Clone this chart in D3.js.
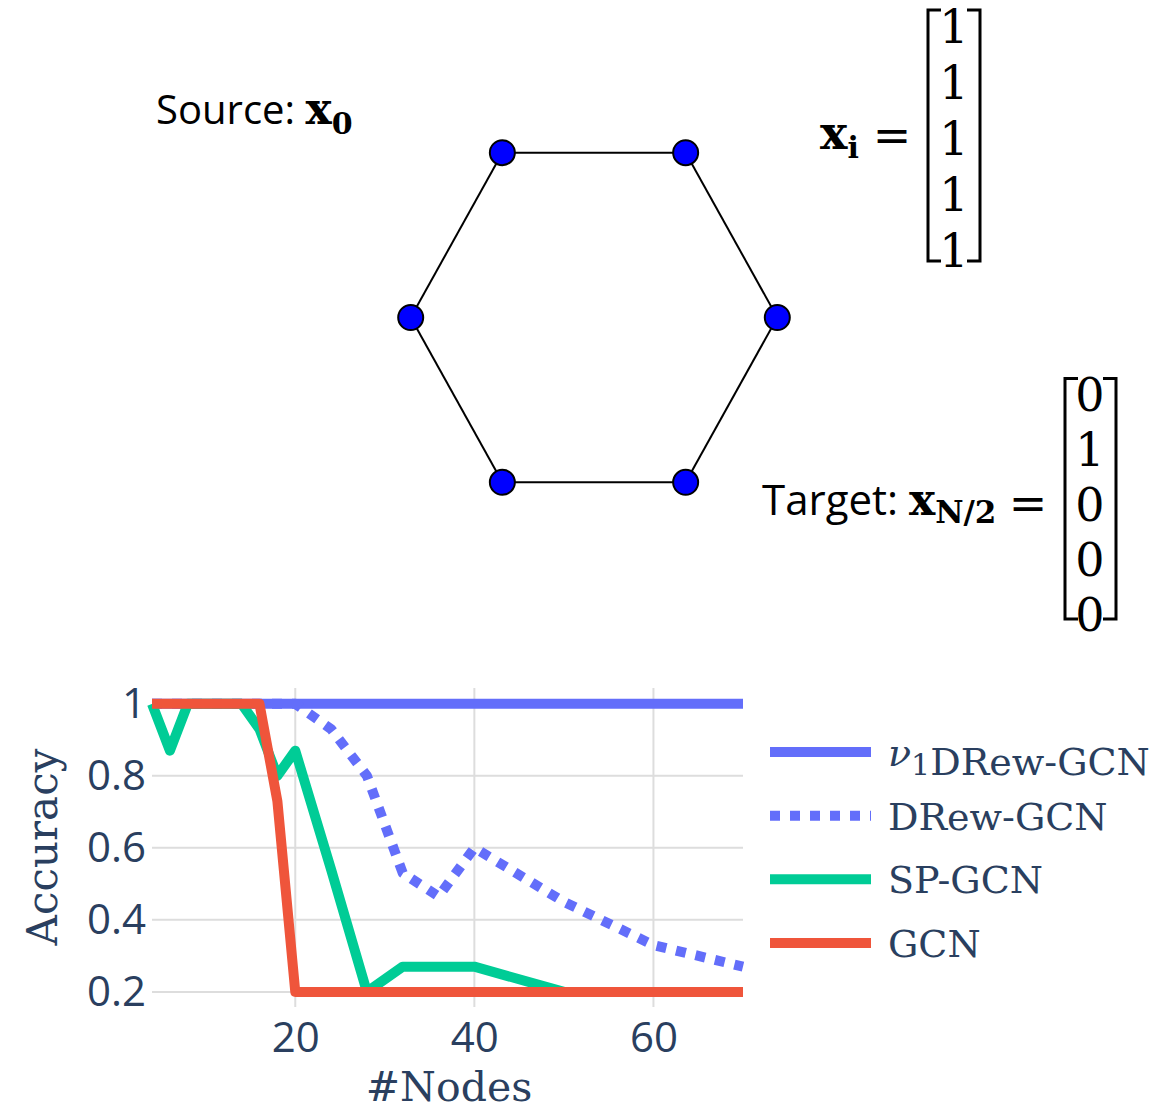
<!DOCTYPE html>
<html>
<head>
<meta charset="utf-8">
<script src="https://cdn.jsdelivr.net/npm/d3@7"></script>
<style>
  body { margin: 0; background: #fff; }
  svg { display: block; }
</style>
</head>
<body>
<div class="container-chart"></div>
<script>
/* --------------------------------------------------------- */
/* DATA                                                      */
/* --------------------------------------------------------- */
const nodeCounts = [4, 6, 8, 10, 12, 14, 16, 18, 20, 24, 28, 32, 36, 40, 50, 60, 70];
const v1DrewAcc  = [1, 1, 1, 1, 1, 1, 1, 1, 1, 1, 1, 1, 1, 1, 1, 1, 1];
const drewAcc    = [1, 1, 1, 1, 1, 1, 1, 1, 1, 0.93, 0.8, 0.53, 0.465, 0.6, 0.45, 0.33, 0.27];
const spAcc      = [1, 0.87, 1, 1, 1, 1, 0.93, 0.8, 0.87, 0.54, 0.2, 0.27, 0.27, 0.27, 0.2, 0.2, 0.2];
const gcnAcc     = [1, 1, 1, 1, 1, 1, 1, 0.73, 0.2, 0.2, 0.2, 0.2, 0.2, 0.2, 0.2, 0.2, 0.2];

const seriesNames = ["DRew-GCN", "DRew-GCN", "SP-GCN", "GCN"];
const xTicks = [20, 40, 60];
const yTicks = [0.2, 0.4, 0.6, 0.8, 1];

// ring graph in the top diagram: node angles (degrees) and edges between them
const ringAngles = [0, 60, 120, 180, 240, 300];
const ringEdges = [[0, 1], [1, 2], [2, 3], [3, 4], [4, 5], [5, 0]];

const featureVec = ["1", "1", "1", "1", "1"];
const targetVec  = ["0", "1", "0", "0", "0"];

/* --------------------------------------------------------- */
/* DRAW                                                      */
/* --------------------------------------------------------- */
const W = 1166, H = 1113;
const axisColor = "#2a3f5f";
const serif = "'DejaVu Serif', serif";
const sans = "'Open Sans', sans-serif";

const svg = d3.select(".container-chart")
    .append("svg")
    .attr("width", W)
    .attr("height", H);

// ---- top diagram ----
const diagram = svg.append("g");

// slightly taller than wide, as in the original figure
const ringX = d3.scaleLinear().domain([-1, 1]).range([410.7, 777.3]);
const ringY = d3.scaleLinear().domain([-1, 1]).range([507.8, 127.2]);
const ringPts = ringAngles.map(function (a) {
    const r = a * Math.PI / 180;
    return { x: ringX(Math.cos(r)), y: ringY(Math.sin(r)) };
});

diagram.selectAll(".edge")
    .data(ringEdges)
    .enter().append("line")
    .attr("class", "edge")
    .attr("x1", function (d) { return ringPts[d[0]].x; })
    .attr("y1", function (d) { return ringPts[d[0]].y; })
    .attr("x2", function (d) { return ringPts[d[1]].x; })
    .attr("y2", function (d) { return ringPts[d[1]].y; })
    .attr("stroke", "#000")
    .attr("stroke-width", 2);

diagram.selectAll(".ringnode")
    .data(ringPts)
    .enter().append("circle")
    .attr("class", "ringnode")
    .attr("cx", function (d) { return d.x; })
    .attr("cy", function (d) { return d.y; })
    .attr("r", 12.5)
    .attr("fill", "#0000ff")
    .attr("stroke", "#000")
    .attr("stroke-width", 2);

// "Source: x0"
const src = diagram.append("text")
    .attr("x", 156).attr("y", 124)
    .attr("font-family", sans).attr("font-size", 40).attr("fill", "#000");
src.append("tspan").text("Source: ");
src.append("tspan").attr("font-family", serif).attr("font-weight", "bold").attr("font-size", 44).text("x");
src.append("tspan").attr("font-family", serif).attr("font-weight", "bold").attr("font-size", 30)
    .attr("dy", 10).text("0");

// "xi = [1 1 1 1 1]"
const xi = diagram.append("text")
    .attr("x", 820).attr("y", 149)
    .attr("font-family", serif).attr("font-weight", "bold").attr("fill", "#000");
xi.append("tspan").attr("font-size", 46).text("x");
xi.append("tspan").attr("font-size", 30).attr("dy", 9).text("i");

diagram.append("text")
    .attr("x", 892).attr("y", 135).attr("dy", "0.35em")
    .attr("text-anchor", "middle")
    .attr("font-family", serif).attr("font-size", 46).attr("fill", "#000")
    .text("=");

// column vector with square brackets
function drawVector(g, values, cx, top, step, left, right, bottom) {
    g.selectAll(null)
        .data(values)
        .enter().append("text")
        .attr("x", cx)
        .attr("y", function (d, i) { return top + i * step; })
        .attr("dy", "0.36em")
        .attr("text-anchor", "middle")
        .attr("font-family", serif)
        .attr("font-size", 46)
        .attr("fill", "#000")
        .text(function (d) { return d; });

    const yTop = top - step / 2 + 12, yBot = bottom;
    const br = d3.path();
    br.moveTo(left + 13, yTop); br.lineTo(left, yTop); br.lineTo(left, yBot); br.lineTo(left + 13, yBot);
    br.moveTo(right - 13, yTop); br.lineTo(right, yTop); br.lineTo(right, yBot); br.lineTo(right - 13, yBot);
    g.append("path")
        .attr("d", br.toString())
        .attr("fill", "none")
        .attr("stroke", "#000")
        .attr("stroke-width", 3);
}

drawVector(diagram, featureVec, 954, 26, 56, 928, 980, 261);

// "Target: xN/2 = [0 1 0 0 0]"
const tgt = diagram.append("text")
    .attr("x", 762).attr("y", 515)
    .attr("font-family", sans).attr("font-size", 42).attr("fill", "#000");
tgt.append("tspan").text("Target: ");
tgt.append("tspan").attr("font-family", serif).attr("font-weight", "bold").attr("font-size", 44).text("x");
tgt.append("tspan").attr("font-family", serif).attr("font-weight", "bold").attr("font-size", 31)
    .attr("dy", 8).text("N/2");

diagram.append("text")
    .attr("x", 1028).attr("y", 503).attr("dy", "0.35em")
    .attr("text-anchor", "middle")
    .attr("font-family", serif).attr("font-size", 46).attr("fill", "#000")
    .text("=");

drawVector(diagram, targetVec, 1090, 394, 55, 1065, 1116, 619);

// ---- accuracy chart ----
const x = d3.scaleLinear().domain([4, 70]).range([152, 743]);
const y = d3.scaleLinear().domain([0.158, 1.044]).range([1007, 688]);

const grid = svg.append("g");
grid.selectAll(".vgrid")
    .data(xTicks)
    .enter().append("line")
    .attr("x1", function (d) { return x(d); })
    .attr("x2", function (d) { return x(d); })
    .attr("y1", y.range()[1])
    .attr("y2", y.range()[0])
    .attr("stroke", "#dddddd")
    .attr("stroke-width", 2);
grid.selectAll(".hgrid")
    .data(yTicks)
    .enter().append("line")
    .attr("x1", x.range()[0])
    .attr("x2", x.range()[1])
    .attr("y1", function (d) { return y(d); })
    .attr("y2", function (d) { return y(d); })
    .attr("stroke", "#dddddd")
    .attr("stroke-width", 2);

// axes (labels only, like plotly)
const xAxis = svg.append("g")
    .attr("transform", "translate(0," + 1015 + ")")
    .call(d3.axisBottom(x).tickValues(xTicks).tickSize(0).tickPadding(0).tickFormat(d3.format("d")));
xAxis.select(".domain").remove();
xAxis.selectAll("text")
    .attr("y", 7)
    .attr("dy", "0.71em")
    .attr("font-family", sans).attr("font-size", 42).attr("fill", axisColor);

const yAxis = svg.append("g")
    .attr("transform", "translate(" + 146 + ",0)")
    .call(d3.axisLeft(y).tickValues(yTicks).tickSize(0).tickPadding(0)
        .tickFormat(function (d) { return d === 1 ? "1" : d3.format(".1f")(d); }));
yAxis.select(".domain").remove();
yAxis.selectAll("text")
    .attr("font-family", sans).attr("font-size", 42).attr("fill", axisColor);

svg.append("text")
    .attr("x", 449).attr("y", 1101)
    .attr("text-anchor", "middle")
    .attr("font-family", serif).attr("font-size", 41).attr("fill", axisColor)
    .text("#Nodes");

svg.append("text")
    .attr("transform", "translate(57,847) rotate(-90)")
    .attr("text-anchor", "middle")
    .attr("font-family", serif).attr("font-size", 42).attr("fill", axisColor)
    .text("Accuracy");

const series = [
    { name: seriesNames[0], values: v1DrewAcc, color: "#636efa", dash: null, nu: true },
    { name: seriesNames[1], values: drewAcc, color: "#636efa", dash: "10,10" },
    { name: seriesNames[2], values: spAcc, color: "#00cc96", dash: null },
    { name: seriesNames[3], values: gcnAcc, color: "#ef553b", dash: null }
];

const line = d3.line()
    .x(function (d) { return x(d[0]); })
    .y(function (d) { return y(d[1]); });

svg.append("g").selectAll(".series")
    .data(series)
    .enter().append("path")
    .attr("class", "series")
    .attr("d", function (s) { return line(nodeCounts.map(function (n, i) { return [n, s.values[i]]; })); })
    .attr("fill", "none")
    .attr("stroke", function (s) { return s.color; })
    .attr("stroke-width", 10)
    .attr("stroke-linejoin", "round")
    .attr("stroke-dasharray", function (s) { return s.dash; });

// legend
const legendRow = d3.scaleLinear().domain([0, 3]).range([752, 943]);
const legend = svg.append("g").selectAll(".legend")
    .data(series)
    .enter().append("g")
    .attr("class", "legend")
    .attr("transform", function (d, i) { return "translate(0," + legendRow(i) + ")"; });

legend.append("line")
    .attr("x1", 770).attr("x2", 871)
    .attr("stroke", function (s) { return s.color; })
    .attr("stroke-width", 10)
    .attr("stroke-dasharray", function (s) { return s.dash; });

const lt = legend.append("text")
    .attr("x", 888).attr("y", 14)
    .attr("font-family", serif).attr("font-size", 38).attr("fill", axisColor);
lt.filter(function (s) { return s.nu; }).each(function () {
    const t = d3.select(this);
    t.append("tspan").attr("font-style", "italic").text("ν");
    t.append("tspan").attr("font-size", 30).attr("dy", 9).text("1");
    t.append("tspan").attr("dy", -9).attr("dx", 2);
});
lt.append("tspan").text(function (s) { return s.name; });
</script>
</body>
</html>
